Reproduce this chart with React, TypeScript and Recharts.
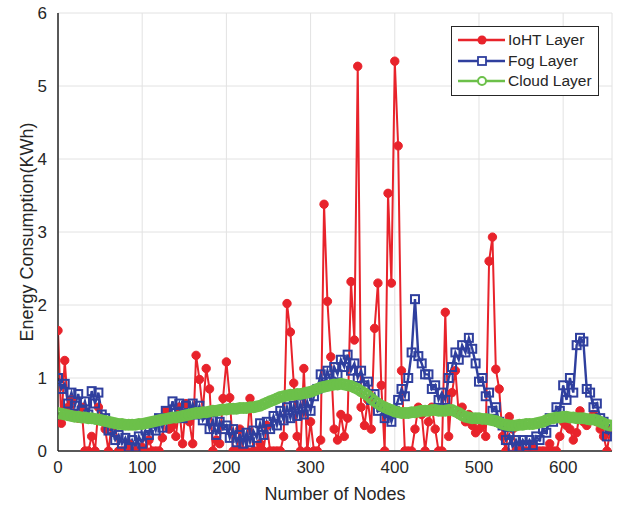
import React from "react";
import {
  LineChart,
  Line,
  XAxis,
  YAxis,
  CartesianGrid,
  Legend,
} from "recharts";

// one sample every 4 nodes
const STEP = 4;

const iohtLayer = [
  1.65, 0.38, 1.24, 0.6, 0.7, 0.5, 0.45, 0.6, 0.0, 0.0,
  0.2, 0.0, 0.6, 0.45, 0.3, 0.0, 0.4, 0.35, 0.0, 0.0,
  0.0, 0.1, 0.0, 0.0, 0.0, 0.05, 0.0, 0.15, 0.0, 0.0,
  0.0, 0.18, 0.55, 0.3, 0.35, 0.2, 0.6, 0.1, 0.65, 0.4,
  0.1, 1.31, 0.98, 0.55, 1.13, 0.85, 0.0, 0.15, 0.1, 0.72,
  1.22, 0.73, 0.0, 0.0, 0.3, 0.0, 0.0, 0.72, 0.0, 0.0,
  0.1, 0.0, 0.35, 0.0, 0.0, 0.0, 0.0, 0.2, 2.02, 1.63,
  0.93, 0.2, 0.0, 1.13, 0.0, 0.4, 0.0, 0.0, 0.15, 3.38,
  2.05, 1.29, 0.3, 0.15, 0.5, 0.2, 0.45, 2.32, 1.52, 5.27,
  0.6, 0.35, 0.7, 0.3, 1.68, 2.3, 0.9, 0.0, 3.53, 2.3,
  5.34, 4.18, 1.1, 0.0, 0.0, 0.0, 0.3, 0.6, 0.5, 0.0,
  0.4, 0.6, 0.3, 0.0, 0.0, 1.9, 0.2, 0.8, 1.1, 0.5,
  0.6, 0.4, 0.5, 0.35, 0.25, 0.3, 0.35, 0.2, 2.6, 2.93,
  1.12, 0.85, 0.2, 0.0, 0.47, 0.3, 0.0, 0.0, 0.0, 0.0,
  0.0, 0.05, 0.0, 0.0, 0.0, 0.0, 0.1, 0.0, 0.0, 0.2,
  0.4, 0.35, 0.3, 0.15, 0.25, 0.55, 0.4, 0.35, 0.45, 0.5,
  0.4, 0.3, 0.2, 0.0, 0.3,
];

const fogLayer = [
  1.0, 0.85, 0.92, 0.65, 0.8, 0.62, 0.78, 0.55, 0.68, 0.5,
  0.82, 0.65, 0.8, 0.5, 0.45, 0.28, 0.3, 0.15, 0.22, 0.1,
  0.18, 0.05, 0.15, 0.05, 0.2, 0.1, 0.28, 0.22, 0.38, 0.28,
  0.45, 0.32, 0.55, 0.45, 0.68, 0.52, 0.65, 0.45, 0.62, 0.5,
  0.65, 0.5, 0.62, 0.42, 0.5, 0.3, 0.42, 0.22, 0.4, 0.3,
  0.35, 0.18, 0.3, 0.12, 0.22, 0.1, 0.25, 0.12, 0.28, 0.18,
  0.38, 0.22, 0.4, 0.3, 0.48, 0.35, 0.55, 0.42, 0.6, 0.45,
  0.62, 0.48, 0.65, 0.5, 0.68, 0.55, 0.75, 0.85, 1.05, 0.9,
  1.1, 0.95, 1.15, 1.05, 1.25, 1.15, 1.32, 1.1, 1.2, 1.0,
  1.1, 0.9, 0.95, 0.7, 0.78, 0.55, 0.6, 0.45, 0.52, 0.4,
  0.55, 0.7, 0.85, 0.75, 1.0, 1.35, 2.08, 1.3, 1.2, 1.05,
  1.05, 0.85, 0.9, 0.7, 0.8, 0.7, 1.0, 1.15, 1.35, 1.25,
  1.45, 1.35, 1.55, 1.4, 1.2, 0.95, 1.0, 0.75, 0.8, 0.55,
  0.6, 0.4, 0.35, 0.15, 0.22, 0.05, 0.15, 0.05, 0.15, 0.08,
  0.15, 0.08, 0.2, 0.15, 0.3, 0.25, 0.45, 0.4, 0.6, 0.55,
  0.9, 0.7, 1.0, 0.8, 1.45, 1.55, 1.5, 0.85, 0.8, 0.6,
  0.65, 0.45, 0.4, 0.2, 0.3,
];

const cloudLayer = [
  0.52, 0.51, 0.5, 0.49, 0.48, 0.47, 0.47, 0.46, 0.46, 0.45,
  0.45, 0.44, 0.43, 0.42, 0.41, 0.4, 0.39, 0.38, 0.37, 0.37,
  0.36, 0.36, 0.36, 0.36, 0.37, 0.37, 0.38, 0.39, 0.4, 0.41,
  0.42, 0.43, 0.44, 0.45, 0.46, 0.46, 0.47, 0.48, 0.49, 0.5,
  0.51, 0.52, 0.52, 0.53, 0.53, 0.54, 0.55, 0.55, 0.56, 0.57,
  0.57, 0.58, 0.58, 0.58, 0.59, 0.59, 0.59, 0.6, 0.6, 0.61,
  0.62, 0.64, 0.66, 0.68, 0.7, 0.72, 0.74, 0.75, 0.76, 0.77,
  0.77, 0.78, 0.78, 0.79, 0.8, 0.81, 0.83, 0.85, 0.87, 0.88,
  0.89, 0.9, 0.91, 0.91, 0.92, 0.91, 0.9, 0.89, 0.87, 0.85,
  0.82, 0.79, 0.76, 0.72, 0.68, 0.65, 0.62, 0.6, 0.58, 0.56,
  0.54, 0.53, 0.52, 0.52, 0.52, 0.53, 0.53, 0.54, 0.55, 0.55,
  0.55, 0.56, 0.56, 0.55, 0.55, 0.55, 0.56, 0.56, 0.54, 0.52,
  0.49, 0.47, 0.46, 0.45, 0.45, 0.45, 0.44, 0.44, 0.43, 0.42,
  0.41, 0.39, 0.37, 0.36, 0.35, 0.35, 0.35, 0.36, 0.36, 0.37,
  0.37, 0.37, 0.38, 0.39, 0.4, 0.42, 0.44, 0.45, 0.46, 0.46,
  0.47, 0.47, 0.46, 0.46, 0.45, 0.45, 0.45, 0.44, 0.43, 0.43,
  0.42, 0.4, 0.38, 0.36, 0.35,
];

const xTicks = [0, 100, 200, 300, 400, 500, 600];
const yTicks = [0, 1, 2, 3, 4, 5, 6];

const RED = "#e8232b";
const BLUE = "#2f3f9e";
const GREEN = "#6cc04a";
const INK = "#262626";
const FONT = '"Liberation Sans", Arial, sans-serif';

const data = iohtLayer.map((v, i) => ({
  node: i * STEP,
  ioht: v,
  fog: fogLayer[i],
  cloud: cloudLayer[i],
}));

function SquareDot(props: any) {
  const { cx, cy, index } = props;
  if (cx == null || cy == null) return null;
  return (
    <rect
      key={`sq-${index}`}
      x={cx - 4}
      y={cy - 4}
      width={8}
      height={8}
      fill="none"
      stroke={BLUE}
      strokeWidth={2}
    />
  );
}

const legendItems = [
  { name: "IoHT Layer", color: RED, marker: "dot" },
  { name: "Fog Layer", color: BLUE, marker: "square" },
  { name: "Cloud Layer", color: GREEN, marker: "ring" },
];

function LegendBox() {
  return (
    <div
      style={{
        background: "#fff",
        border: `1px solid ${INK}`,
        width: 146,
        padding: "3px 0 3px 0",
        fontFamily: FONT,
        fontSize: 15.5,
        color: INK,
        textAlign: "left",
      }}
    >
      {legendItems.map((it) => (
        <div key={it.name} style={{ display: "flex", alignItems: "center", height: 20.5 }}>
          <svg width={56} height={20} style={{ display: "block" }}>
            <line x1={6} y1={10} x2={53} y2={10} stroke={it.color} strokeWidth={2.5} />
            {it.marker === "dot" && <circle cx={30} cy={10} r={4.5} fill={it.color} />}
            {it.marker === "square" && (
              <rect x={26} y={6} width={8} height={8} fill="#fff" stroke={it.color} strokeWidth={1.8} />
            )}
            {it.marker === "ring" && (
              <circle cx={30} cy={10} r={4} fill="#fff" stroke={it.color} strokeWidth={2} />
            )}
          </svg>
          <span>{it.name}</span>
        </div>
      ))}
    </div>
  );
}

function YLabel({ viewBox }: any) {
  const cx = 27;
  const cy = viewBox.y + viewBox.height / 2;
  return (
    <text
      x={cx}
      y={cy}
      transform={`rotate(-90 ${cx} ${cy})`}
      textAnchor="middle"
      dominantBaseline="central"
      fill={INK}
      fontSize={18}
      fontFamily={FONT}
    >
      Energy Consumption(KWh)
    </text>
  );
}

export default function App() {
  return (
    <div style={{ position: "absolute", left: 0, top: 0, background: "#fff" }}>
      <LineChart
        width={622}
        height={506}
        data={data}
        margin={{ top: 13, right: 10, bottom: 0, left: 0 }}
        style={{ fontFamily: FONT }}
      >
        <CartesianGrid stroke="#e2e2e2" strokeWidth={1} />
        <XAxis
          dataKey="node"
          type="number"
          domain={[0, 658]}
          ticks={xTicks}
          allowDataOverflow
          height={55}
          axisLine={{ stroke: INK, strokeWidth: 1.5 }}
          tickLine={false}
          tickMargin={4}
          tick={{ fill: INK, fontSize: 17 }}
          label={{
            value: "Number of Nodes",
            position: "insideBottom",
            offset: 6,
            fill: INK,
            fontSize: 18,
          }}
        />
        <YAxis
          type="number"
          domain={[0, 6]}
          ticks={yTicks}
          allowDataOverflow
          width={58}
          axisLine={{ stroke: INK, strokeWidth: 1.5 }}
          tickLine={false}
          tickMargin={5}
          tick={{ fill: INK, fontSize: 17 }}
          label={{ content: YLabel }}
        />
        {/* middle/center keeps the legend from taking room off the plot */}
        <Legend
          layout="horizontal"
          verticalAlign="middle"
          align="center"
          content={<LegendBox />}
          wrapperStyle={{ position: "absolute", top: 26, left: 451, width: 148 }}
        />
        <Line
          type="linear"
          dataKey="ioht"
          name="IoHT Layer"
          stroke={RED}
          strokeWidth={2}
          dot={{ r: 4.2, fill: RED, stroke: RED, strokeWidth: 1 }}
          isAnimationActive={false}
        />
        <Line
          type="linear"
          dataKey="fog"
          name="Fog Layer"
          stroke={BLUE}
          strokeWidth={2.4}
          dot={SquareDot}
          isAnimationActive={false}
        />
        <Line
          type="linear"
          dataKey="cloud"
          name="Cloud Layer"
          stroke={GREEN}
          strokeWidth={3}
          dot={{ r: 4.5, fill: "none", stroke: GREEN, strokeWidth: 3 }}
          isAnimationActive={false}
        />
      </LineChart>
    </div>
  );
}
